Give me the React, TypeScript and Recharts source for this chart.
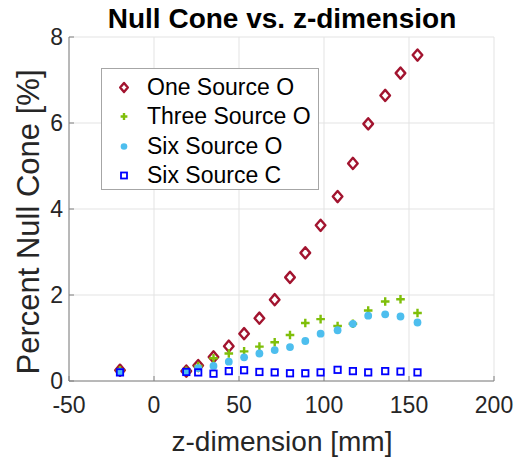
import {
  ScatterChart,
  Scatter,
  XAxis,
  YAxis,
  CartesianGrid,
} from "recharts";

// z positions [mm]
const zValues = [-20, 19, 26, 35, 44, 53, 62, 71, 80, 89, 98, 108, 117, 126, 136, 145, 155];

// percent null cone per configuration
const oneSourceO = [0.25, 0.23, 0.36, 0.56, 0.81, 1.1, 1.46, 1.89, 2.41, 2.98, 3.62, 4.29, 5.06, 5.98, 6.64, 7.16, 7.58];
const threeSourceO = [0.25, 0.24, 0.35, 0.53, 0.64, 0.69, 0.8, 0.9, 1.07, 1.35, 1.44, 1.28, 1.33, 1.64, 1.85, 1.9, 1.58];
const sixSourceO = [0.22, 0.22, 0.3, 0.35, 0.45, 0.55, 0.64, 0.72, 0.79, 0.93, 1.1, 1.18, 1.33, 1.52, 1.55, 1.5, 1.36];
const sixSourceC = [0.2, 0.21, 0.2, 0.17, 0.23, 0.25, 0.21, 0.2, 0.18, 0.18, 0.2, 0.26, 0.23, 0.2, 0.23, 0.22, 0.2];

const xTicks = [-50, 0, 50, 100, 150, 200];
const yTicks = [0, 2, 4, 6, 8];

const RED = "#A2142F";
const GREEN = "#7FBF0A";
const CYAN = "#4DBEEE";
const BLUE = "#0000FF";

const FONT = "'Liberation Sans', Arial, Helvetica, sans-serif";

const toPoints = (ys: number[]) => zValues.map((z, i) => ({ z, v: ys[i] }));

// marker shapes (MATLAB-ish)
const Diamond = ({ cx, cy, size = 4.8 }: any) => (
  <path
    d={`M${cx},${cy - size - 0.8} L${cx + size},${cy} L${cx},${cy + size + 0.8} L${cx - size},${cy} Z`}
    fill="none"
    stroke={RED}
    strokeWidth={2.4}
    strokeLinejoin="round"
  />
);

const Plus = ({ cx, cy, size = 4.3 }: any) => (
  <path
    d={`M${cx - size},${cy} H${cx + size} M${cx},${cy - size} V${cy + size}`}
    stroke={GREEN}
    strokeWidth={2.4}
    fill="none"
  />
);

const Dot = ({ cx, cy, r = 3.9 }: any) => <circle cx={cx} cy={cy} r={r} fill={CYAN} />;

const Square = ({ cx, cy, size = 3.2 }: any) => (
  <rect
    x={cx - size}
    y={cy - size}
    width={size * 2}
    height={size * 2}
    fill="none"
    stroke={BLUE}
    strokeWidth={1.8}
  />
);

const series = [
  { name: "One Source O", data: oneSourceO, Shape: Diamond },
  { name: "Three Source O", data: threeSourceO, Shape: Plus },
  { name: "Six Source O", data: sixSourceO, Shape: Dot },
  { name: "Six Source C", data: sixSourceC, Shape: Square },
];

const tickStyle = { fill: "#262626", fontSize: 23, fontFamily: FONT };

export default function App() {
  return (
    <div
      style={{
        position: "absolute",
        left: 0,
        top: 0,
        width: 518,
        height: 459,
        background: "#fff",
        fontFamily: FONT,
      }}
    >
      <ScatterChart
        width={518}
        height={459}
        margin={{ top: 37, right: 24, bottom: 0, left: 0 }}
      >
        <CartesianGrid stroke="#e3e3e3" strokeWidth={1} />
        <XAxis
          dataKey="z"
          type="number"
          domain={[-50, 200]}
          ticks={xTicks}
          height={78}
          stroke="#808080"
          tickSize={-5}
          tickMargin={21}
          tick={tickStyle}
        />
        <XAxis
          xAxisId="top"
          orientation="top"
          type="number"
          domain={[-50, 200]}
          ticks={xTicks}
          height={0}
          stroke="#808080"
          tickSize={-5}
          tickFormatter={() => ""}
        />
        <YAxis
          dataKey="v"
          type="number"
          domain={[0, 8]}
          ticks={yTicks}
          width={69}
          stroke="#808080"
          tickSize={-5}
          tickMargin={11}
          tick={tickStyle}
        />
        <YAxis
          yAxisId="right"
          orientation="right"
          type="number"
          domain={[0, 8]}
          ticks={yTicks}
          width={0}
          stroke="#808080"
          tickSize={-5}
          tickFormatter={() => ""}
        />
        {series.map((s) => (
          <Scatter
            key={s.name}
            name={s.name}
            data={toPoints(s.data)}
            isAnimationActive={false}
            shape={(p: any) => <s.Shape cx={p.cx} cy={p.cy} />}
          />
        ))}
      </ScatterChart>

      {/* title + axis labels */}
      <svg
        width={518}
        height={459}
        style={{ position: "absolute", left: 0, top: 0, pointerEvents: "none" }}
      >
        <text
          x={282}
          y={28}
          textAnchor="middle"
          fontFamily={FONT}
          fontWeight="bold"
          fontSize={28}
          fill="#000"
        >
          Null Cone vs. z-dimension
        </text>
        <text
          x={282}
          y={451}
          textAnchor="middle"
          fontFamily={FONT}
          fontSize={28}
          fill="#262626"
        >
          z-dimension [mm]
        </text>
        <text
          transform="translate(39,222) rotate(-90)"
          textAnchor="middle"
          fontFamily={FONT}
          fontSize={31}
          fill="#262626"
        >
          Percent Null Cone [%]
        </text>
      </svg>

      {/* legend */}
      <div
        style={{
          position: "absolute",
          left: 101,
          top: 68,
          width: 216,
          height: 120,
          border: "1px solid #a6a6a6",
          background: "#fff",
          boxSizing: "content-box",
        }}
      >
        {series.map((s, i) => (
          <div
            key={s.name}
            style={{
              position: "absolute",
              left: 0,
              top: 4 + i * 29.3,
              height: 29,
              display: "flex",
              alignItems: "center",
            }}
          >
            <svg width={44} height={29}>
              <s.Shape cx={22} cy={14.5} size={i === 0 ? 3.8 : i === 1 ? 3.4 : 3} r={3.3} />
            </svg>
            <span style={{ fontSize: 23, color: "#000", whiteSpace: "nowrap", marginLeft: 1 }}>
              {s.name}
            </span>
          </div>
        ))}
      </div>
    </div>
  );
}
